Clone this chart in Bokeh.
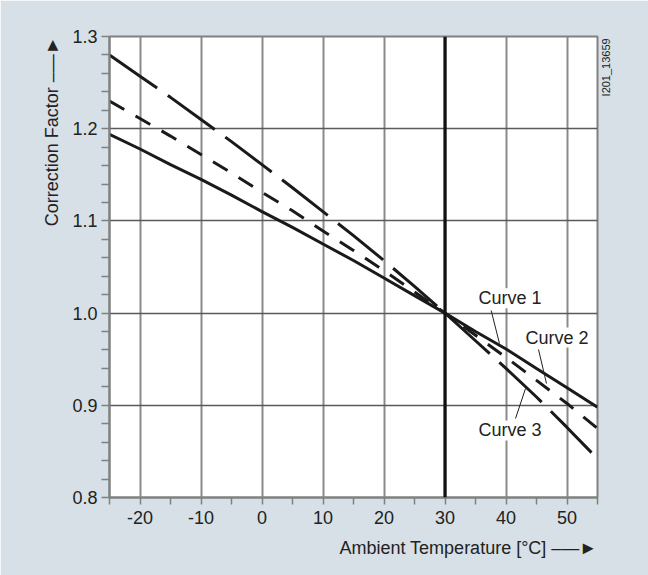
import math
from bokeh.plotting import figure
from bokeh.models import (FixedTicker, NumeralTickFormatter, Span, Label, Title,
                          ColumnDataSource, LinearAxis, CustomJSTickFormatter)
from bokeh.embed import file_html
from bokeh.resources import INLINE

# ---- data ----
temps = [-25, -20, -15, -10, -5, 0, 5, 10, 15, 20, 25, 30, 35, 40, 45, 50, 55]
curve1 = [1.194, 1.178, 1.161, 1.145, 1.128, 1.110, 1.093, 1.075, 1.057, 1.038, 1.019,
          1.000, 0.980, 0.961, 0.940, 0.919, 0.898]
curve2 = [1.230, 1.211, 1.192, 1.172, 1.152, 1.131, 1.111, 1.089, 1.068, 1.046, 1.023,
          1.000, 0.976, 0.952, 0.927, 0.902, 0.875]
curve3 = [1.280, 1.257, 1.234, 1.210, 1.186, 1.161, 1.136, 1.110, 1.084, 1.057, 1.029,
          1.000, 0.970, 0.940, 0.909, 0.876, 0.842]
x_ticks = [-20, -10, 0, 10, 20, 30, 40, 50]
x_tick_labels = ["-20", "-10", "0", "10", "20", "30", "40", "50"]
x_minor = [-25, -15, -5, 5, 15, 25, 35, 45, 55]
y_ticks = [0.8, 0.9, 1.0, 1.1, 1.2, 1.3]
y_minor = [0.82, 0.84, 0.86, 0.88, 0.92, 0.94, 0.96, 0.98, 1.02, 1.04, 1.06, 1.08,
           1.12, 1.14, 1.16, 1.18, 1.22, 1.24, 1.26, 1.28]
ref_temp = 30
curve_names = ["Curve 1", "Curve 2", "Curve 3"]
drawing_no = "I201_13659"

FONT = "Liberation Sans"
BG = "#d6e0e6"
TXT = "#222222"
GRAY = "#808080"
ARROW = " \u2013\u2014\u25ba"

p = figure(width=648, height=575, output_backend="svg", toolbar_location=None,
           x_range=(-25, 55), y_range=(0.8, 1.3),
           min_border_left=109, min_border_right=51, min_border_top=36,
           min_border_bottom=78)
p.background_fill_color = "white"
p.border_fill_color = BG
p.outline_line_color = GRAY
p.outline_line_width = 2

# axes
p.xaxis.ticker = FixedTicker(ticks=x_ticks, minor_ticks=x_minor)
p.xaxis.major_label_overrides = dict(zip(x_ticks, x_tick_labels))
p.yaxis.ticker = FixedTicker(ticks=y_ticks, minor_ticks=y_minor)
p.yaxis.formatter = NumeralTickFormatter(format="0.0")
for ax in (p.xaxis, p.yaxis):
    ax.axis_line_color = GRAY
    ax.axis_line_width = 2
    ax.major_tick_line_color = GRAY
    ax.minor_tick_line_color = GRAY
    ax.major_tick_line_width = 1.5
    ax.minor_tick_line_width = 1.5
    ax.major_tick_in = 0
    ax.minor_tick_in = 0
    ax.major_label_text_font = FONT
    ax.major_label_text_font_size = "18px"
    ax.major_label_text_color = TXT
p.xaxis.major_tick_out = 7
p.xaxis.minor_tick_out = 7
p.xaxis.major_label_standoff = 6
p.yaxis.major_tick_out = 8
p.yaxis.minor_tick_out = 8
p.yaxis.major_label_standoff = 4

# grid
p.xgrid.ticker = FixedTicker(ticks=x_ticks)
p.ygrid.ticker = FixedTicker(ticks=y_ticks)
p.xgrid.grid_line_color = "#8a8a8a"
p.xgrid.grid_line_width = 2
p.ygrid.grid_line_color = "#5a5a5a"
p.ygrid.grid_line_width = 1.5

p.add_layout(Span(location=ref_temp, dimension="height", line_color="#111111",
                  line_width=3.2))

src = ColumnDataSource(dict(t=temps, c1=curve1, c2=curve2, c3=curve3))
p.line("t", "c1", source=src, line_color="#1a1a1a", line_width=3)
p.line("t", "c2", source=src, line_color="#1a1a1a", line_width=3, line_dash="17 13")
p.line("t", "c3", source=src, line_color="#1a1a1a", line_width=3, line_dash="58 13")

# curve labels and leader lines
label_pos = [(35.5, 1.016), (43.2, 0.9735), (35.5, 0.8727)]
leaders_x0 = [37.57, 45.33, 41.56]
leaders_y0 = [1.0028, 0.9605, 0.8857]
leaders_x1 = [38.93, 46.64, 43.2]
leaders_y1 = [0.967, 0.9236, 0.9182]
p.segment(leaders_x0, leaders_y0, leaders_x1, leaders_y1, line_color="#222222",
          line_width=1)
for name, (lx, ly) in zip(curve_names, label_pos):
    p.add_layout(Label(x=lx, y=ly, text=name, text_font=FONT, text_font_size="18px",
                       text_color=TXT, text_baseline="middle", text_align="left",
                       background_fill_color="white"))

# axis titles with arrows (as titles so they sit outside the frame)
p.add_layout(Title(text="Ambient Temperature [°C]" + ARROW, align="right",
                   text_font=FONT, text_font_size="18px", text_font_style="normal",
                   text_color=TXT, standoff=19), "below")
p.add_layout(Title(text="Correction Factor" + ARROW, align="right",
                   text_font=FONT, text_font_size="18px", text_font_style="normal",
                   text_color=TXT, standoff=16), "left")

# drawing number on the right, reading bottom to top, near the top
rax = LinearAxis(ticker=FixedTicker(ticks=[1.235]), axis_line_color=None,
                 major_tick_line_color=None, minor_tick_line_color=None,
                 major_tick_out=0, major_label_standoff=9,
                 formatter=CustomJSTickFormatter(args=dict(t=drawing_no),
                                                 code="return t"),
                 major_label_orientation=math.pi / 2,
                 major_label_text_font=FONT, major_label_text_font_size="11px",
                 major_label_text_color=TXT)
p.add_layout(rax, "right")

open("out.html", "w").write(file_html(p, INLINE))
